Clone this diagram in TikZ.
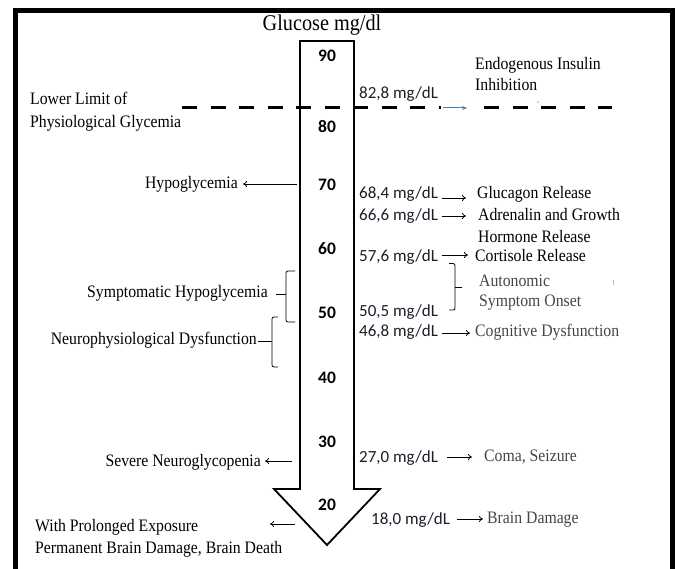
\documentclass[tikz,border=0pt]{standalone}
\usepackage{fontspec}
\setmainfont{Liberation Serif}[FakeStretch=0.9]
\newfontfamily\calib{Carlito}
\usetikzlibrary{arrows.meta}
\definecolor{valcol}{HTML}{1E1E2A}
\definecolor{greytxt}{HTML}{454545}
\definecolor{blu}{HTML}{4A7EBB}
\definecolor{lblu}{HTML}{A8C4E0}
\begin{document}
\begin{tikzpicture}[x=1pt,y=-1pt,
  lbl/.style={font=\fontsize{17.5}{19}\selectfont, inner sep=0pt, text=black, text height=12pt, text depth=4pt},
  glbl/.style={lbl, text=greytxt},
  val/.style={font=\calib\fontsize{17}{19}\selectfont, inner sep=0pt, text=valcol, text height=11.5pt, text depth=3.5pt},
  num/.style={font=\calib\bfseries\fontsize{17.5}{19}\selectfont, inner sep=0pt},
  arr/.style={-{To[length=4pt,width=6pt]}, line width=0.8pt},
  bracestyle/.style={line width=0.8pt, rounded corners=2pt},
  dashline/.style={line width=3pt, dash pattern=on 15pt off 13.5pt}]
\useasboundingbox (0,0) rectangle (675,569);
% frame
\draw[line width=5pt] (15,580) -- (15,10.5) -- (672,10.5) -- (672,580);
% big arrow
\draw[line width=1.8pt, fill=white] (300,41) -- (354,41) -- (354,489) -- (380,489) -- (327,545) -- (274,489) -- (300,489) -- cycle;
% dashed lower limit line
\draw[dashline] (182,108) -- (441,108);
\draw[dashline] (484,108) -- (612,108);
\coordinate (bs) at (443,108);
\coordinate (be) at (467,108);
\draw[blu, line width=1pt, -{Stealth[length=5pt,width=4pt]}] (bs) -- (be);
\fill[greytxt] (538,102) circle (0.7pt);
\draw[lblu, line width=0.8pt] (613,280.5) -- (613,285.5);
% title
\node[font=\fontsize{22.5}{24}\selectfont, inner sep=0pt] (title) at (322,25) {Glucose mg/dl};
% scale numbers
\node[num] (n90) at (327,56) {90};
\node[num] (n80) at (327,127) {80};
\node[num] (n70) at (327,185) {70};
\node[num] (n60) at (327,249) {60};
\node[num] (n50) at (327,313) {50};
\node[num] (n40) at (327,378) {40};
\node[num] (n30) at (327,442) {30};
\node[num] (n20) at (327,505) {20};
% top labels
\node[lbl, anchor=west] (ll1) at (30,101) {Lower Limit of};
\node[lbl, anchor=west] (ll2) at (30,124) {Physiological Glycemia};
\node[lbl, anchor=west] (ei1) at (475,66) {Endogenous Insulin};
\node[lbl, anchor=west] (ei2) at (475,87) {Inhibition};
\node[val, anchor=west] (v828) at (359,95) {82,8 mg/dL};
% right values
\node[val, anchor=west] (v684) at (359,195) {68,4 mg/dL};
\node[val, anchor=west] (v666) at (359,217) {66,6 mg/dL};
\node[val, anchor=west] (v576) at (359,258) {57,6 mg/dL};
\node[val, anchor=west] (v505) at (359,313) {50,5 mg/dL};
\node[val, anchor=west] (v468) at (359,333) {46,8 mg/dL};
\node[val, anchor=west] (v270) at (359,458) {27,0 mg/dL};
\node[val, anchor=west] (v180) at (371,520) {18,0 mg/dL};
% right labels
\node[lbl, anchor=west] (glu) at (477,195) {Glucagon Release};
\node[lbl, anchor=west] (adr1) at (478,217) {Adrenalin and Growth};
\node[lbl, anchor=west] (adr2) at (478,239) {Hormone Release};
\node[lbl, anchor=west] (cor) at (475,258) {Cortisole Release};
\node[glbl, anchor=west] (aut1) at (479,283) {Autonomic};
\node[glbl, anchor=west] (aut2) at (479,303) {Symptom Onset};
\node[glbl, anchor=west] (cog) at (475,333) {Cognitive Dysfunction};
\node[glbl, anchor=west] (coma) at (484,457) {Coma, Seizure};
\node[glbl, anchor=west] (bd) at (487,519) {Brain Damage};
% left labels
\node[lbl, anchor=east] (hypo) at (238,185) {Hypoglycemia};
\node[lbl, anchor=east] (symp) at (268,294) {Symptomatic Hypoglycemia};
\node[lbl, anchor=east] (neuro) at (257,341) {Neurophysiological Dysfunction};
\node[lbl, anchor=east] (sev) at (261,462) {Severe Neuroglycopenia};
\node[lbl, anchor=west] (pro1) at (35,527) {With Prolonged Exposure};
\node[lbl, anchor=west] (pro2) at (35,549) {Permanent Brain Damage, Brain Death};
% arrow coordinates
\coordinate (h1) at (297,184);   \coordinate (h2) at (243,184);
\coordinate (a1) at (442,198);   \coordinate (a2) at (466,198);
\coordinate (b1) at (442,216);   \coordinate (b2) at (466,216);
\coordinate (c1) at (442,255);   \coordinate (c2) at (468,255);
\coordinate (d1) at (442,333);   \coordinate (d2) at (470,333);
\coordinate (e1) at (447,457);   \coordinate (e2) at (472,457);
\coordinate (f1) at (457,519);   \coordinate (f2) at (483,519);
\coordinate (s1) at (292,461);   \coordinate (s2) at (265,461);
\coordinate (p1) at (295,524);   \coordinate (p2) at (270,524);
\draw[arr] (h1) -- (h2);
\draw[arr] (a1) -- (a2);
\draw[arr] (b1) -- (b2);
\draw[arr] (c1) -- (c2);
\draw[arr] (d1) -- (d2);
\draw[arr] (e1) -- (e2);
\draw[arr] (f1) -- (f2);
\draw[arr] (s1) -- (s2);
\draw[arr] (p1) -- (p2);
% braces
\draw[bracestyle] (449,263.5) -- (455,263.5) -- (455,310) -- (449,310);
\draw[line width=0.8pt] (455,287) -- (462,287);
\draw[bracestyle] (295,271) -- (286,271) -- (286,322) -- (295,322);
\draw[line width=0.8pt] (286,294) -- (276,294);
\draw[bracestyle] (278,317) -- (272,317) -- (272,367) -- (278,367);
\draw[line width=0.8pt] (272,341) -- (258,341);
\end{tikzpicture}
\end{document}
